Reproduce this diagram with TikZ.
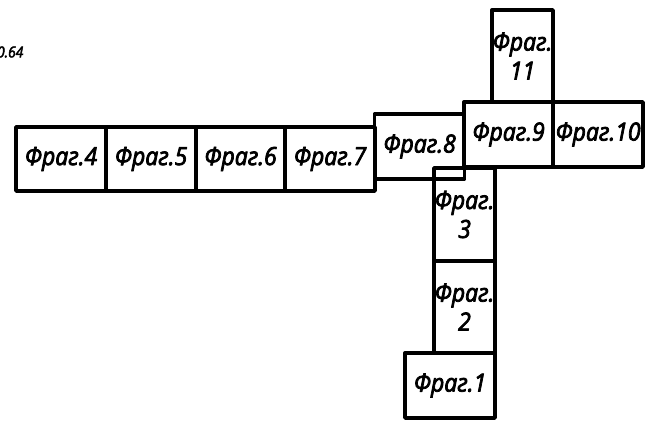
\documentclass[tikz,border=0pt]{standalone}
\usepackage{fontspec}
\setmainfont{Open Sans}
\newfontfamily\fragfont[FakeBold=3,FakeStretch=0.92]{Open Sans Italic}
\tikzset{
  frag/.style={draw=black,line width=3.4pt,fill=none,inner sep=0pt,align=center,line join=round,
    font=\fontsize{25}{29}\selectfont\fragfont,text=black},
}
\begin{document}
\begin{tikzpicture}[x=1pt,y=-1pt]
\useasboundingbox (0,0) rectangle (666,424);
\clip (0,0) rectangle (666,424);
\node[frag,minimum width=90pt,minimum height=65pt] (f8) at (419.5,146.5) {Фраг.8};
\node[frag,minimum width=61pt,minimum height=93pt] (f3) at (464.5,214.5) {Фраг.\\3};
\node[frag,minimum width=61pt,minimum height=92pt] (f2) at (464.5,307) {Фраг.\\2};
\node[frag,minimum width=90pt,minimum height=65pt] (f1) at (450,385.5) {Фраг.1};
\node[frag,minimum width=90pt,minimum height=64pt] (f4) at (61,159) {Фраг.4};
\node[frag,minimum width=90pt,minimum height=64pt] (f5) at (151,159) {Фраг.5};
\node[frag,minimum width=89pt,minimum height=64pt] (f6) at (240.5,159) {Фраг.6};
\node[frag,minimum width=90pt,minimum height=64pt] (f7) at (330,159) {Фраг.7};
\node[frag,minimum width=61pt,minimum height=92pt] (f11) at (522.5,56) {Фраг.\\11};
\node[frag,minimum width=89pt,minimum height=65pt] (f9) at (508.5,134.5) {Фраг.9};
\node[frag,minimum width=90pt,minimum height=65pt] (f10) at (598,134.5) {Фраг.10};
\node[font=\fontsize{15}{17}\selectfont\fragfont,inner sep=0pt,anchor=east] (v) at (23.5,52) {0.64};
\end{tikzpicture}
\end{document}
